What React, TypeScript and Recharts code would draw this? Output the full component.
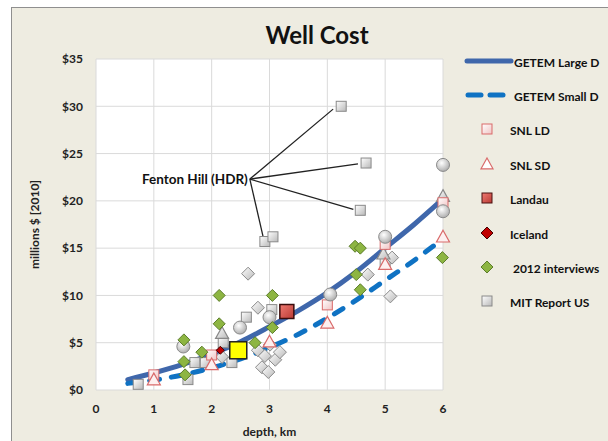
import React from 'react';
import {
  ComposedChart,
  Line,
  Scatter,
  XAxis,
  YAxis,
  CartesianGrid,
  ReferenceLine,
  ReferenceDot,
} from 'recharts';

// [depth km, cost M$]
const getemLargeD = [[0.55, 1.1], [1, 1.8], [1.5, 2.7], [2, 3.8], [2.5, 5.1], [3, 6.7], [3.5, 8.4], [4, 10.3], [4.5, 12.5], [5, 15.0], [5.5, 17.5], [6, 20.2]];
const getemSmallD = [[0.55, 0.7], [1, 1.05], [1.5, 1.6], [2, 2.35], [2.5, 3.3], [3, 4.5], [3.5, 5.9], [4, 7.6], [4.5, 9.5], [5, 11.6], [5.5, 13.7], [6, 16.0]];
const snlLD = [[1, 1.6], [2, 3.7], [4, 9.0], [5, 15.4], [6, 19.8]];
const snlSD = [[1, 1.1], [2, 2.7], [3, 5.1], [4, 7.1], [5, 13.3], [6, 16.2]];
const landau = [[3.3, 8.3]];
const iceland = [[2.15, 4.2]];
const interviews2012 = [[1.52, 5.3], [1.52, 3.0], [1.54, 1.6], [1.83, 4.0], [2.13, 10.0], [2.13, 7.0], [2.75, 5.0], [3.05, 10.0], [3.05, 6.6], [4.48, 15.2], [4.57, 15.0], [4.5, 12.2], [4.57, 10.6], [5.99, 14.0]];
const mitReportUS = [[0.73, 0.6], [1.59, 1.1], [1.71, 2.9], [1.89, 2.9], [2.35, 2.9], [2.2, 5.0], [2.6, 7.7], [3.04, 8.5], [2.92, 15.7], [3.06, 16.2], [4.24, 30.0], [4.67, 24.0], [4.57, 19.0], [5.0, 13.4]];
const otherDiamonds = [[2.63, 12.3], [2.8, 8.7], [2.18, 3.5], [2.8, 4.2], [2.92, 3.6], [3.01, 4.8], [3.1, 3.2], [2.87, 2.4], [3.18, 4.0], [2.98, 1.9], [4.7, 12.2], [5.09, 9.9], [5.12, 14.0]];
const otherCircles = [[1.51, 4.6], [2.49, 6.6], [3.0, 7.7], [4.05, 10.1], [5.0, 16.2], [6.0, 18.9], [6.0, 23.8]];
const otherTriangles = [[2.18, 6.0], [4.97, 14.4], [6.0, 20.5]];
const yellowWell = [[2.46, 4.2]];
const fentonHillAnchor = [2.66, 22.3];
const fentonHillEnds = [[4.1, 29.7], [4.53, 23.9], [4.45, 19.1], [2.89, 16.2]];

const xTicks = [0, 1, 2, 3, 4, 5, 6];
const yTicks = [0, 5, 10, 15, 20, 25, 30, 35];

const pts = (a: number[][]) => a.map(([x, y]) => ({ x, y }));

const FONT = "Lato, 'Open Sans', sans-serif";
const BEIGE = '#eeece1';

const square = (size: number, fill: string, stroke: string, sw = 1) => (p: any) => (
  <rect x={p.cx - size / 2} y={p.cy - size / 2} width={size} height={size} fill={fill} stroke={stroke} strokeWidth={sw} />
);
const diamond = (r: number, fill: string, stroke: string) => (p: any) => (
  <polygon
    points={`${p.cx},${p.cy - r} ${p.cx + r},${p.cy} ${p.cx},${p.cy + r} ${p.cx - r},${p.cy}`}
    fill={fill}
    stroke={stroke}
    strokeWidth={1}
  />
);
const triangle = (r: number, fill: string, stroke: string) => (p: any) => (
  <polygon
    points={`${p.cx},${p.cy - r} ${p.cx + r},${p.cy + r * 0.8} ${p.cx - r},${p.cy + r * 0.8}`}
    fill={fill}
    stroke={stroke}
    strokeWidth={1.2}
  />
);
const circle = (r: number, fill: string, stroke: string) => (p: any) => (
  <circle cx={p.cx} cy={p.cy} r={r} fill={fill} stroke={stroke} strokeWidth={1} />
);

const legendItems = [
  { name: 'GETEM Large D', icon: 'solid' },
  { name: 'GETEM Small D', icon: 'dash' },
  { name: 'SNL LD', icon: 'snlLD' },
  { name: 'SNL SD', icon: 'snlSD' },
  { name: 'Landau', icon: 'landau' },
  { name: 'Iceland', icon: 'iceland' },
  { name: ' 2012 interviews', icon: 'green' },
  { name: 'MIT Report US', icon: 'mit' },
];

const LegendIcon = ({ kind }: { kind: string }) => {
  const c = { cx: 22, cy: 8 };
  let el: React.ReactNode = null;
  if (kind === 'solid') el = <line x1={2} y1={8} x2={46} y2={8} stroke="#3f67ab" strokeWidth={5} strokeLinecap="round" />;
  if (kind === 'dash')
    el = (
      <g stroke="#0f72c3" strokeWidth={5} strokeLinecap="round">
        <line x1={3} y1={8} x2={16} y2={8} />
        <line x1={25} y1={8} x2={38} y2={8} />
      </g>
    );
  if (kind === 'snlLD') el = square(10, 'url(#gPink)', '#d96a6a')(c);
  if (kind === 'snlSD') el = triangle(6, '#fff', '#d96a6a')(c);
  if (kind === 'landau') el = square(10, 'url(#gRed)', '#4a1010')(c);
  if (kind === 'iceland') el = diamond(6, '#c00000', '#400')(c);
  if (kind === 'green') el = diamond(6, '#8db542', '#5c7d2a')(c);
  if (kind === 'mit') el = square(10, 'url(#gGray)', '#8a8a8a')(c);
  return (
    <svg width={48} height={16} style={{ overflow: 'visible' }}>
      {el}
    </svg>
  );
};

export default function App() {
  return (
    <div style={{ position: 'absolute', left: 0, top: 0, width: 608, height: 441, background: '#fff', overflow: 'hidden', fontFamily: FONT }}>
      <div style={{ position: 'absolute', left: 11, top: 7, width: 620, height: 460, background: BEIGE, border: '1px solid #8f8f8f' }} />
      <div style={{ position: 'absolute', left: 217, width: 200, top: 20, textAlign: 'center', fontSize: 24, fontWeight: 'bold', color: '#111' }}>
        Well Cost
      </div>
      <svg width={0} height={0} style={{ position: 'absolute' }}>
        <defs>
          <linearGradient id="gGray" x1="0" y1="0" x2="1" y2="1">
            <stop offset="0%" stopColor="#ffffff" />
            <stop offset="100%" stopColor="#b8b8b8" />
          </linearGradient>
          <radialGradient id="gBall" cx="0.4" cy="0.35" r="0.7">
            <stop offset="0%" stopColor="#ffffff" />
            <stop offset="100%" stopColor="#a9a9a9" />
          </radialGradient>
          <linearGradient id="gPink" x1="0" y1="0" x2="1" y2="1">
            <stop offset="0%" stopColor="#ffffff" />
            <stop offset="100%" stopColor="#f0c4c4" />
          </linearGradient>
          <linearGradient id="gRed" x1="0" y1="0" x2="1" y2="1">
            <stop offset="0%" stopColor="#f07a72" />
            <stop offset="100%" stopColor="#b83a34" />
          </linearGradient>
        </defs>
      </svg>
      <div style={{ position: 'absolute', left: 0, top: 0 }}>
        <ComposedChart width={608} height={441} margin={{ top: 59, right: 165, bottom: 4, left: 20 }}>
          <CartesianGrid fill="#fff" stroke="#dadada" horizontal vertical />
          <XAxis
            type="number"
            dataKey="x"
            domain={[0, 6]}
            ticks={xTicks}
            axisLine={false}
            tickLine={false}
            tickMargin={8}
            height={47}
            tick={{ fill: '#222', fontSize: 12, fontWeight: 'bold', fontFamily: FONT }}
            label={{ value: 'depth, km', position: 'insideBottom', offset: 1, style: { fill: '#222', fontSize: 12, fontWeight: 'bold', fontFamily: FONT } }}
          />
          <YAxis
            type="number"
            dataKey="y"
            domain={[0, 35]}
            ticks={yTicks}
            axisLine={false}
            tickLine={false}
            tickMargin={7}
            width={76}
            tickFormatter={(v) => `$${v}`}
            tick={{ fill: '#222', fontSize: 12, fontWeight: 'bold', fontFamily: FONT }}
            label={{
              value: 'millions $ [2010]',
              angle: -90,
              position: 'insideLeft',
              offset: 15,
              style: { textAnchor: 'middle', fill: '#222', fontSize: 12, fontWeight: 'bold', fontFamily: FONT },
            }}
          />
          {fentonHillEnds.map(([x, y], i) => (
            <ReferenceLine
              key={`fh-${i}`}
              segment={[{ x: fentonHillAnchor[0], y: fentonHillAnchor[1] }, { x, y }]}
              stroke="#222"
              strokeWidth={1.3}
            />
          ))}
          <ReferenceDot
            x={fentonHillAnchor[0]}
            y={fentonHillAnchor[1]}
            r={0}
            stroke="none"
            label={{ value: 'Fenton Hill (HDR)', position: 'left', offset: 2, style: { fill: '#111', fontSize: 13.5, fontWeight: 'bold', fontFamily: FONT } }}
          />
          <Line data={pts(getemLargeD)} dataKey="y" type="monotone" stroke="#3f67ab" strokeWidth={5} dot={false} strokeLinecap="round" isAnimationActive={false} />
          <Line data={pts(getemSmallD)} dataKey="y" type="monotone" stroke="#0f72c3" strokeWidth={5} strokeDasharray="10 12" strokeLinecap="round" dot={false} isAnimationActive={false} />
          <Scatter data={pts(mitReportUS)} dataKey="y" shape={square(10, 'url(#gGray)', '#8a8a8a')} isAnimationActive={false} />
          <Scatter data={pts(otherDiamonds)} dataKey="y" shape={diamond(6.5, 'url(#gGray)', '#8a8a8a')} isAnimationActive={false} />
          <Scatter data={pts(otherTriangles)} dataKey="y" shape={triangle(6.5, 'url(#gGray)', '#888')} isAnimationActive={false} />
          <Scatter data={pts(snlLD)} dataKey="y" shape={square(10, 'url(#gPink)', '#d96a6a')} isAnimationActive={false} />
          <Scatter data={pts(snlSD)} dataKey="y" shape={triangle(6.5, '#fdf0f0', '#d96a6a')} isAnimationActive={false} />
          <Scatter data={pts(otherCircles)} dataKey="y" shape={circle(6.5, 'url(#gBall)', '#8a8a8a')} isAnimationActive={false} />
          <Scatter data={pts(interviews2012)} dataKey="y" shape={diamond(6, '#8db542', '#5c7d2a')} isAnimationActive={false} />
          <Scatter data={pts(landau)} dataKey="y" shape={square(14, 'url(#gRed)', '#3a0c0c', 1.5)} isAnimationActive={false} />
          <Scatter data={pts(iceland)} dataKey="y" shape={diamond(4, '#c00000', '#400')} isAnimationActive={false} />
          <Scatter data={pts(yellowWell)} dataKey="y" shape={square(17, '#ffff00', '#222', 1.5)} isAnimationActive={false} />
        </ComposedChart>
      </div>
      <div style={{ position: 'absolute', left: 465, top: 54 }}>
        {legendItems.map((it, i) => (
          <div key={it.name} style={{ position: 'absolute', top: i * 34.4, left: 0, display: 'flex', alignItems: 'center', whiteSpace: 'pre', height: 16 }}>
            <div style={{ width: it.icon === 'solid' || it.icon === 'dash' ? 49 : 45 }}>
              <LegendIcon kind={it.icon} />
            </div>
            <span style={{ fontSize: 12, fontWeight: 'bold', color: '#111' }}>{it.name}</span>
          </div>
        ))}
      </div>
    </div>
  );
}
